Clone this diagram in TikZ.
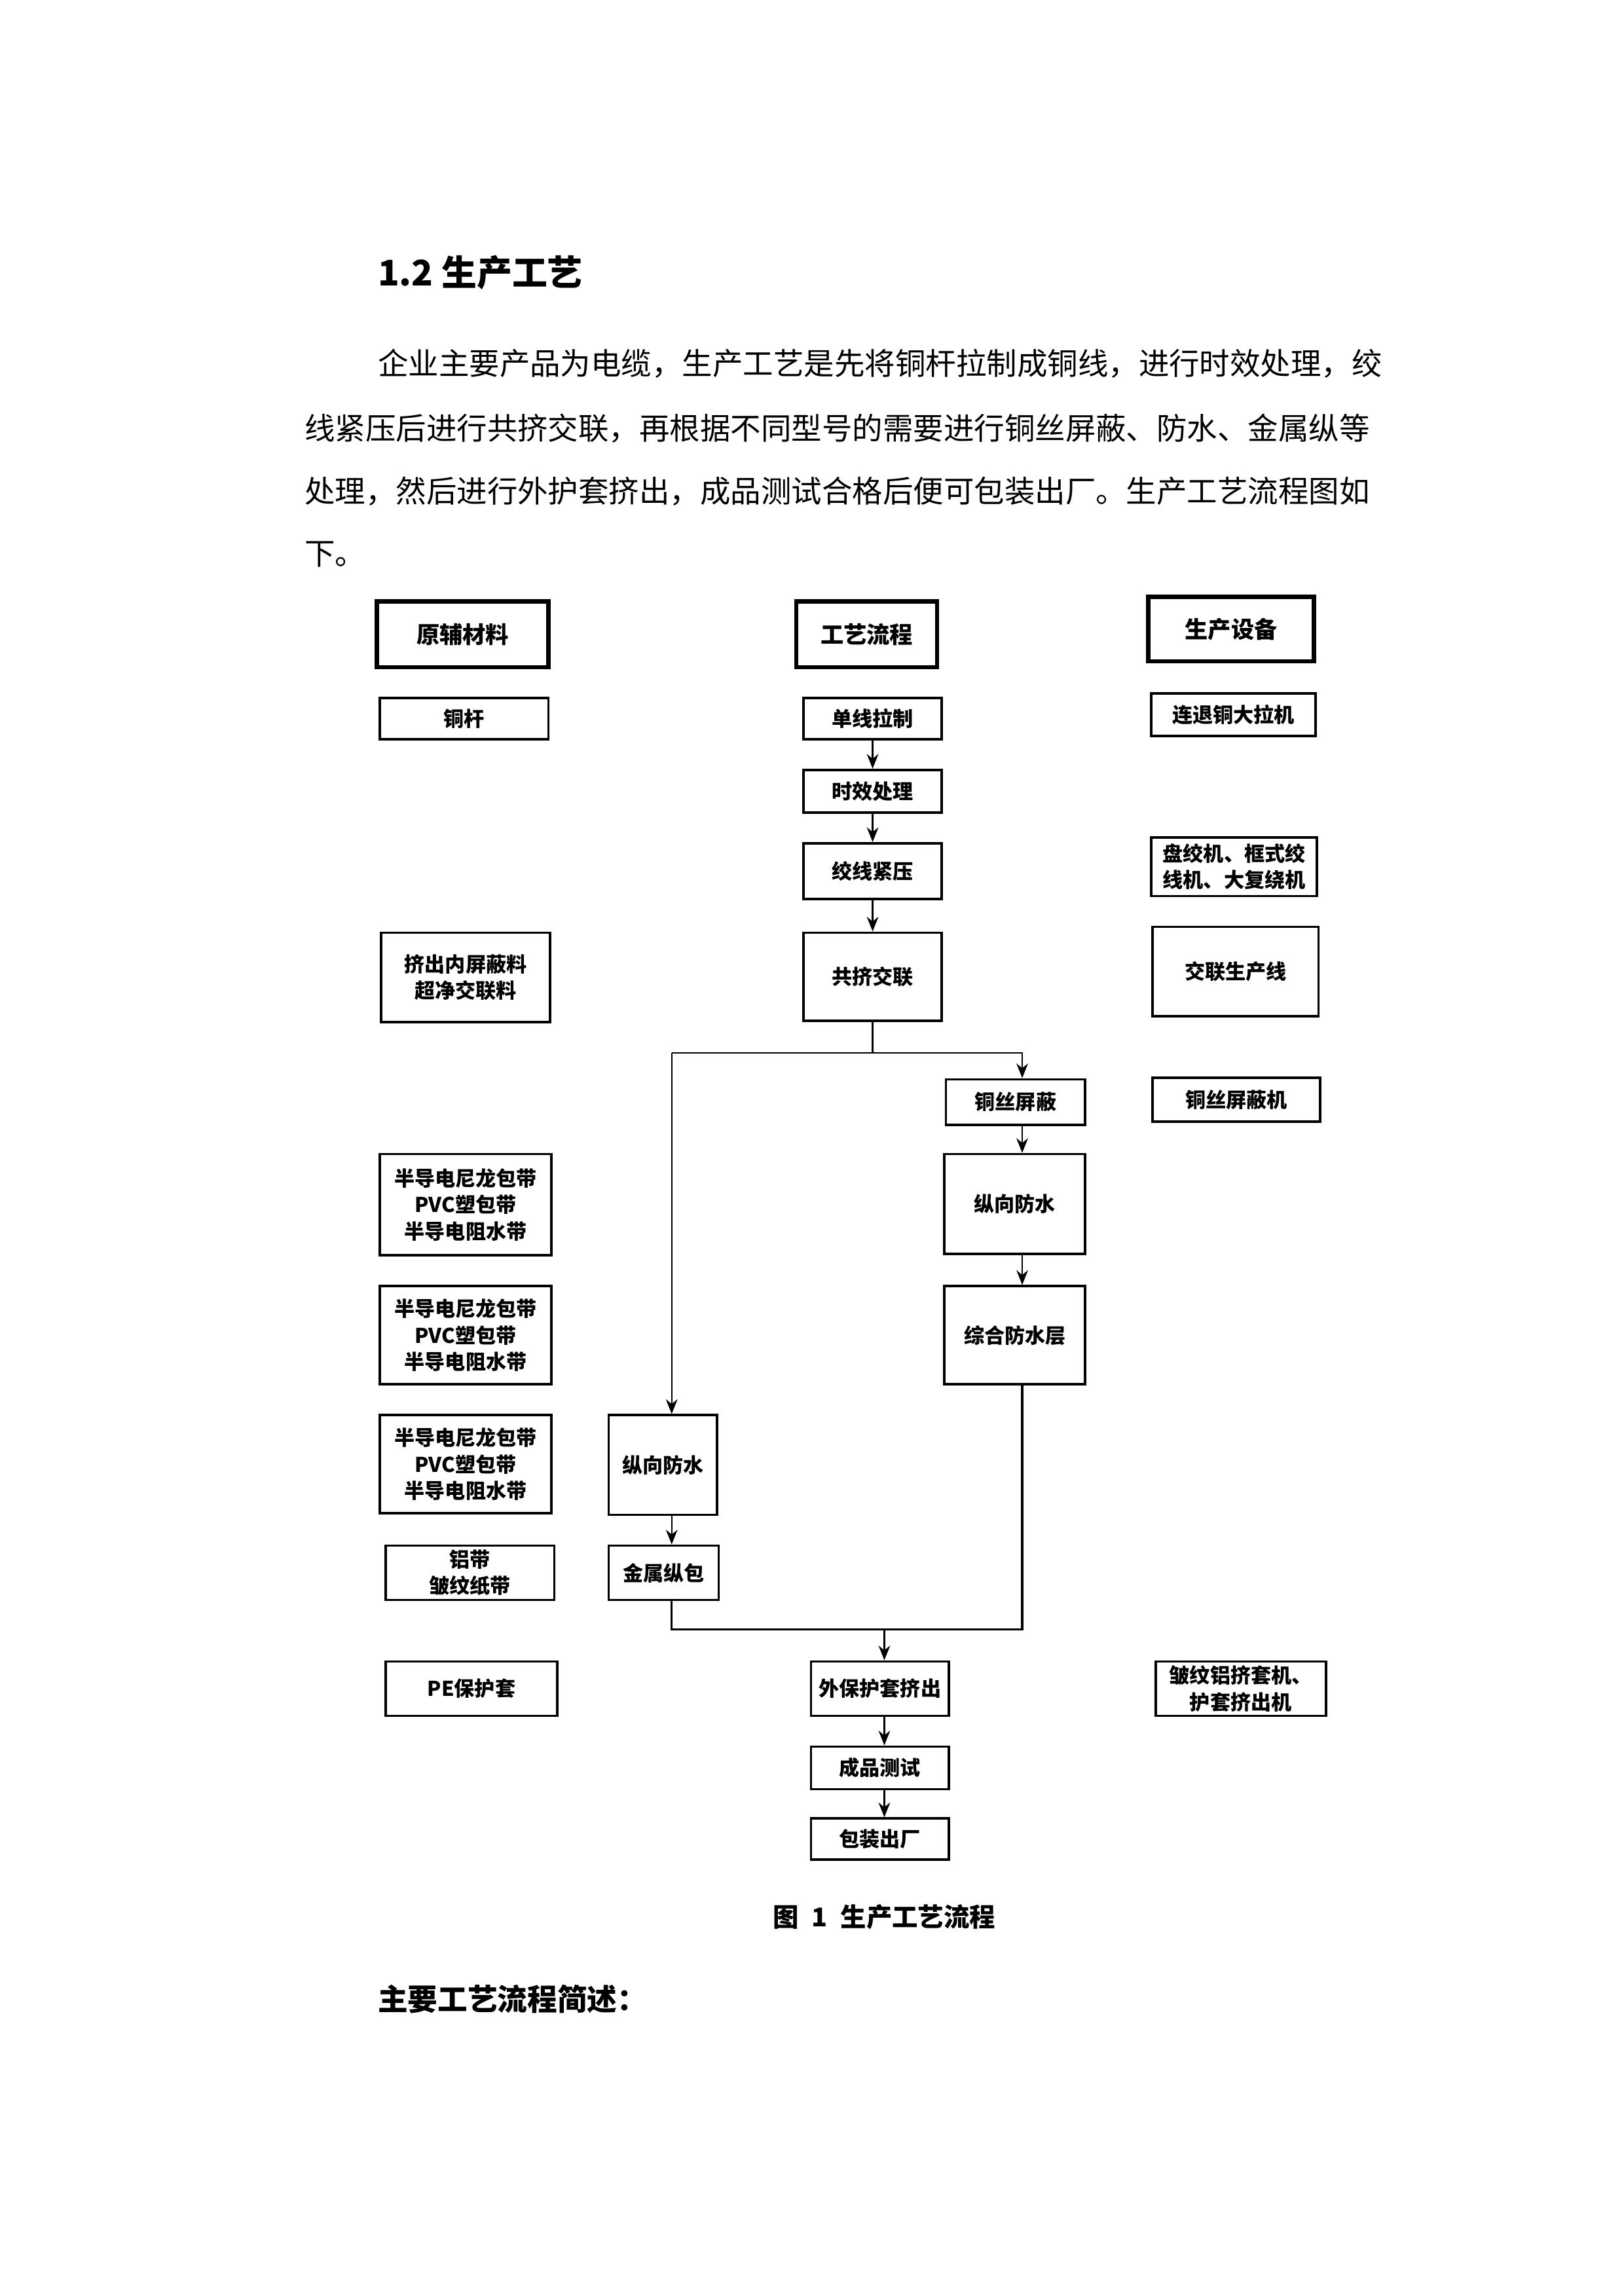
\documentclass[tikz,border=0pt]{standalone}
\usepackage{fontspec}
\setmainfont{Noto Sans CJK SC}
\usetikzlibrary{arrows.meta}
\tikzset{every picture/.style={line width=0.75pt}}

\begin{document}
\begin{tikzpicture}[x=0.1897mm,y=-0.1897mm,
	box/.style={draw,line width=0.9pt,inner sep=0pt,align=center,font=\fontsize{7.5}{9.7}\selectfont\bfseries},
	headbox/.style={box,line width=1.6pt,font=\fontsize{8.5}{10}\selectfont\bfseries},
	sz/.style 2 args={minimum width=#1*0.1897mm,minimum height=#2*0.1897mm},
	flow/.style={-{Stealth[length=1.9mm,width=1.5mm]},line width=0.6pt},
	para/.style={anchor=west,inner sep=0pt,font=\fontsize{11.2}{13}\selectfont}]
	\useasboundingbox (0,0) rectangle (1107,1565);
	
	% Heading and text
	\node[anchor=west,inner sep=0pt,font=\fontsize{13}{15}\selectfont\bfseries] (title) at (257,186) {1.2 生产工艺};
	\node[para] (line1) at (257,248) {企业主要产品为电缆，生产工艺是先将铜杆拉制成铜线，进行时效处理，绞};
	\node[para] (line2) at (207,292) {线紧压后进行共挤交联，再根据不同型号的需要进行铜丝屏蔽、防水、金属纵等};
	\node[para] (line3) at (207,335) {处理，然后进行外护套挤出，成品测试合格后便可包装出厂。生产工艺流程图如};
	\node[para] (line4) at (207,378) {下。};
	
	% Left column: materials
	\node[headbox,sz={117}{45}] (raw) at (315.5,432.5) {原辅材料};
	\node[box,sz={115}{28}] (rod) at (316.5,490) {铜杆};
	\node[box,sz={115}{61}] (shieldmat) at (317.5,666.5) {挤出内屏蔽料\\超净交联料};
	\node[box,sz={117}{69}] (tapeA) at (317.5,821.5) {半导电尼龙包带\\PVC塑包带\\半导电阻水带};
	\node[box,sz={117}{67}] (tapeB) at (317.5,910.5) {半导电尼龙包带\\PVC塑包带\\半导电阻水带};
	\node[box,sz={117}{67}] (tapeC) at (317.5,998.5) {半导电尼龙包带\\PVC塑包带\\半导电阻水带};
	\node[box,sz={115}{37}] (alu) at (320.5,1072.5) {铝带\\皱纹纸带};
	\node[box,sz={117}{37}] (pe) at (321.5,1151.5) {PE保护套};
	
	% Centre column: process
	\node[headbox,sz={96}{45}] (flowhead) at (591,432.5) {工艺流程};
	\node[box,sz={94}{28}] (drawing) at (595,490) {单线拉制};
	\node[box,sz={94}{29}] (aging) at (595,539.5) {时效处理};
	\node[box,sz={94}{38}] (strand) at (595,594) {绞线紧压};
	\node[box,sz={94}{60}] (xlpe) at (595,666) {共挤交联};
	\node[box,sz={95}{31}] (wire) at (692.5,751.5) {铜丝屏蔽};
	\node[box,sz={96}{68}] (water) at (692,821) {纵向防水};
	\node[box,sz={96}{67}] (comp) at (692,910.5) {综合防水层};
	\node[box,sz={74}{68}] (lwater) at (452,999) {纵向防水};
	\node[box,sz={75}{37}] (metal) at (452.5,1072.5) {金属纵包};
	\node[box,sz={94}{37}] (jacket) at (600,1151.5) {外保护套挤出};
	\node[box,sz={94}{29}] (test) at (600,1205.5) {成品测试};
	\node[box,sz={94}{28}] (pack) at (600,1254) {包装出厂};
	
	% Right column: equipment
	\node[headbox,sz={113}{44}] (equip) at (839.5,429) {生产设备};
	\node[box,sz={112}{29}] (drawm) at (841,487.5) {连退铜大拉机};
	\node[box,sz={113}{40}] (strandm) at (841.5,591) {盘绞机、框式绞\\线机、大复绕机};
	\node[box,sz={113}{61}] (xlpem) at (842.5,662.5) {交联生产线};
	\node[box,sz={114}{30}] (wirem) at (843,750) {铜丝屏蔽机};
	\node[box,sz={116}{37}] (jacketm) at (846,1151.5) {皱纹铝挤套机、\\护套挤出机};
	
	% Branch and merge points
	\coordinate (split) at (595,718);
	\coordinate (lsplit) at (458,718);
	\coordinate (rsplit) at (697,718);
	\coordinate (lmerge) at (458,1111);
	\coordinate (rmerge) at (697,1111);
	\coordinate (merge) at (603,1111);
	
	% Draw arrows
	\draw[flow] (drawing) -- (aging);
	\draw[flow] (aging) -- (strand);
	\draw[flow] (strand) -- (xlpe);
	\draw (xlpe.south) -- (split);
	\draw[flow] (lsplit) -- (rsplit) -- (rsplit |- wire.north);
	\draw[flow] (wire.south -| rsplit) -- (water.north -| rsplit);
	\draw[flow] (water.south -| rsplit) -- (comp.north -| rsplit);
	\draw[flow] (lsplit) -- (lsplit |- lwater.north);
	\draw[flow] (lwater.south -| lsplit) -- (metal.north -| lsplit);
	\draw (comp.south -| rmerge) -- (rmerge) -- (lmerge) -- (metal.south -| lmerge);
	\draw[flow] (merge) -- (merge |- jacket.north);
	\draw[flow] (jacket.south -| merge) -- (test.north -| merge);
	\draw[flow] (test.south -| merge) -- (pack.north -| merge);
	
	% Caption
	\node[font=\fontsize{9.5}{11}\selectfont\bfseries] (caption) at (603,1307) {图\hspace{0.5em}1\hspace{0.5em}生产工艺流程};
	\node[anchor=west,inner sep=0pt,font=\fontsize{11}{13}\selectfont\bfseries] (summary) at (257,1363) {主要工艺流程简述：};
\end{tikzpicture}
\end{document}
